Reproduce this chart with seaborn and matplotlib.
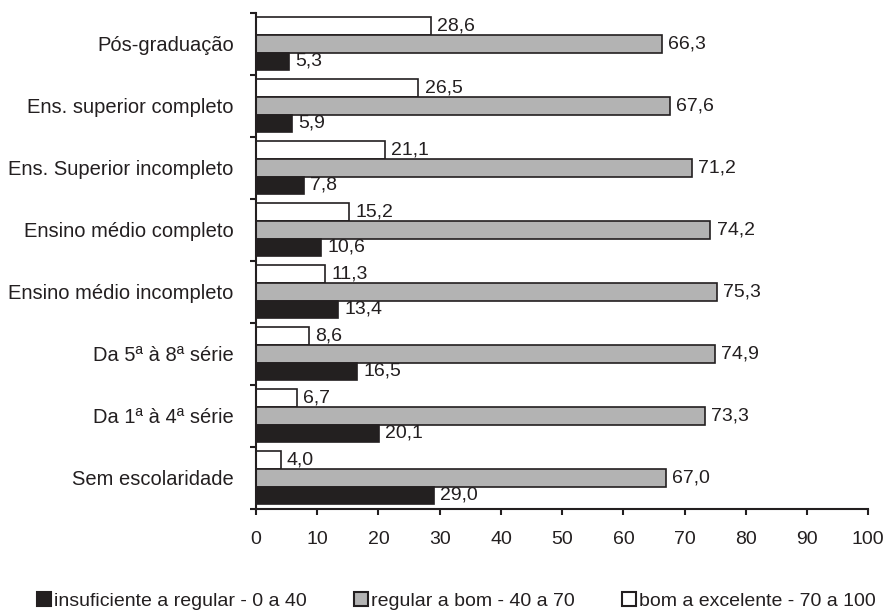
import matplotlib.pyplot as plt
import pandas as pd
import seaborn as sns
from matplotlib.patches import Patch

# Data
categories = [
    "Pós-graduação",
    "Ens. superior completo",
    "Ens. Superior incompleto",
    "Ensino médio completo",
    "Ensino médio incompleto",
    "Da 5ª à 8ª série",
    "Da 1ª à 4ª série",
    "Sem escolaridade",
]
insuficiente = [5.3, 5.9, 7.8, 10.6, 13.4, 16.5, 20.1, 29.0]
regular = [66.3, 67.6, 71.2, 74.2, 75.3, 74.9, 73.3, 67.0]
bom = [28.6, 26.5, 21.1, 15.2, 11.3, 8.6, 6.7, 4.0]

series_names = [
    "insuficiente a regular - 0 a 40",
    "regular a bom - 40 a 70",
    "bom a excelente - 70 a 100",
]
colors = {series_names[0]: "#231f20", series_names[1]: "#b3b3b3", series_names[2]: "#ffffff"}
ink = "#231f20"

# Long format table for seaborn
df = pd.DataFrame(
    {
        "categoria": categories * 3,
        "valor": insuficiente + regular + bom,
        "serie": [series_names[0]] * 8 + [series_names[1]] * 8 + [series_names[2]] * 8,
    }
)

sns.set_style("ticks")
plt.rcParams["font.family"] = ["Liberation Sans", "DejaVu Sans"]

fig, ax = plt.subplots(figsize=(8.86, 6.10), dpi=100)

# White bar on top, gray in the middle, black at the bottom of each group
hue_order = [series_names[2], series_names[1], series_names[0]]
sns.barplot(
    data=df,
    y="categoria",
    x="valor",
    hue="serie",
    hue_order=hue_order,
    order=categories,
    palette=colors,
    orient="h",
    width=0.85,
    edgecolor=ink,
    linewidth=1.2,
    legend=False,
    ax=ax,
)

# Value labels with comma decimals
for container in ax.containers:
    labels = [f"{v:.1f}".replace(".", ",") for v in container.datavalues]
    ax.bar_label(container, labels=labels, padding=4.5, fontsize=14, color=ink)

ax.set_xlim(0, 100)
ax.set_xticks(range(0, 101, 10))
ax.set_ylim(len(categories) - 0.5, -0.5)
ax.set_xlabel("")
ax.set_ylabel("")

# Ticks on the y axis sit between groups, labels sit on the groups
ax.set_yticks([i - 0.5 for i in range(len(categories) + 1)], minor=True)
ax.tick_params(axis="y", which="major", length=0, labelsize=14.5, pad=16)
ax.tick_params(axis="y", which="minor", length=4, width=1.5, color=ink)
ax.tick_params(axis="x", length=4, width=1.5, color=ink, labelsize=14, pad=12)
for label in ax.get_yticklabels() + ax.get_xticklabels():
    label.set_color(ink)

sns.despine(ax=ax)
for side in ["left", "bottom"]:
    ax.spines[side].set_linewidth(1.5)
    ax.spines[side].set_color(ink)

# Legend along the bottom, black / gray / white
handles = [Patch(facecolor=colors[s], edgecolor=ink, linewidth=1.5) for s in series_names]
fig.legend(
    handles,
    series_names,
    loc="lower center",
    bbox_to_anchor=(0.515, -0.028),
    ncol=3,
    frameon=False,
    fontsize=14,
    handlelength=0.75,
    handleheight=0.75,
    handletextpad=0.15,
    columnspacing=2.4,
    labelcolor=ink,
)

fig.subplots_adjust(left=0.289, right=0.98, top=0.979, bottom=0.166)
fig.savefig("out.png", dpi=100)
